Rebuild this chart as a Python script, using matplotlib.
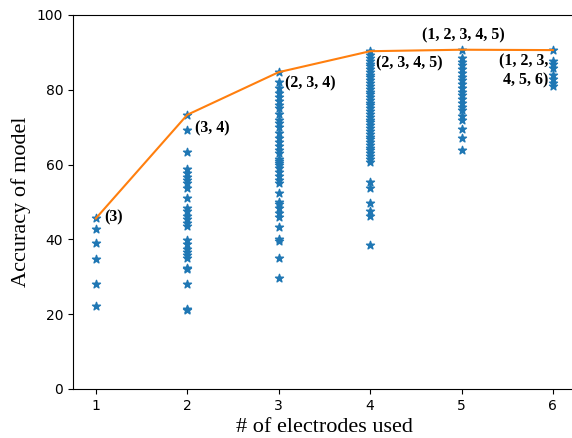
import matplotlib.pyplot as plt

# accuracy of each electrode combination, grouped by number of electrodes
acc_1 = [45.6, 42.7, 39.0, 34.7, 28.2, 22.3]
acc_2 = [73.3, 69.3, 63.4, 58.8, 57.8, 56.8, 56.0, 55.2, 53.7, 51.0, 48.3,
         47.5, 46.3, 45.5, 44.5, 43.5, 39.8, 38.8, 37.5, 36.5, 35.8, 35.0,
         32.3, 32.0, 28.0, 21.4, 21.2]
acc_3 = [84.7, 82.0, 80.5, 79.0, 78.0, 77.0, 76.0, 75.0, 73.5, 72.0, 71.0,
         70.0, 68.5, 67.0, 66.0, 65.0, 64.0, 63.0, 61.5, 61.0, 60.5, 60.0,
         59.0, 58.0, 57.0, 56.0, 55.0, 52.3, 50.0, 49.5, 48.5, 47.0, 46.0,
         43.3, 40.0, 39.5, 35.0, 29.6]
acc_4 = [90.3, 89.3, 88.5, 87.8, 87.0, 86.3, 85.5, 84.8, 84.0, 83.3, 82.5,
         81.8, 81.0, 80.3, 79.5, 78.8, 78.0, 77.3, 76.5, 75.8, 75.0, 74.3,
         73.5, 72.8, 72.0, 71.3, 70.5, 69.8, 69.0, 68.3, 67.5, 66.8, 66.0,
         65.3, 64.5, 63.8, 63.0, 62.3, 61.5, 60.6, 55.3, 53.8, 49.7, 47.5,
         46.3, 38.5]
acc_5 = [90.7, 88.5, 87.5, 86.5, 85.5, 84.5, 83.5, 82.5, 81.5, 80.5, 79.5,
         78.5, 77.5, 76.5, 75.5, 74.5, 73.0, 72.0, 69.5, 67.0, 63.8]
acc_6 = [90.6, 87.8, 86.8, 85.8, 84.0, 83.0, 81.8, 81.0]

n_electrodes = [1, 2, 3, 4, 5, 6]
all_acc = [acc_1, acc_2, acc_3, acc_4, acc_5, acc_6]
best_acc = [max(a) for a in all_acc]

labels = ['(3)', '(3, 4)', '(2, 3, 4)', '(2, 3, 4, 5)', '(1, 2, 3, 4, 5)',
          '(1, 2, 3,\n4, 5, 6)']

fig = plt.figure(figsize=(5.72, 4.38), dpi=100)
ax = fig.add_axes([0.1276, 0.1119, 0.879, 0.854])

for n, acc in zip(n_electrodes, all_acc):
    ax.scatter([n] * len(acc), acc, marker='*', color='tab:blue', zorder=2)
ax.plot(n_electrodes, best_acc, color='tab:orange', zorder=3)

font = dict(family='Liberation Serif', weight='bold', size=11.5)
ax.text(1.088, 46, labels[0], va='center', ha='left', **font)
ax.text(2.083, 69.7, labels[1], va='center', ha='left', **font)
ax.text(3.07, 81.7, labels[2], va='center', ha='left', **font)
ax.text(4.06, 87.0, labels[3], va='center', ha='left', **font)
ax.text(5.02, 94.5, labels[4], va='center', ha='center', **font)
ax.text(5.945, 85.0, labels[5], va='center', ha='right', ma='right',
        linespacing=1.2, **font)

ax.set_ylim(0, 100)
ax.set_xlim(0.75, 6.25)
ax.set_xticks(n_electrodes)
ax.set_xlabel('# of electrodes used', family='Liberation Serif', size=16)
ax.set_ylabel('Accuracy of model', family='Liberation Serif', size=16)

plt.savefig('out.png', dpi=100)
